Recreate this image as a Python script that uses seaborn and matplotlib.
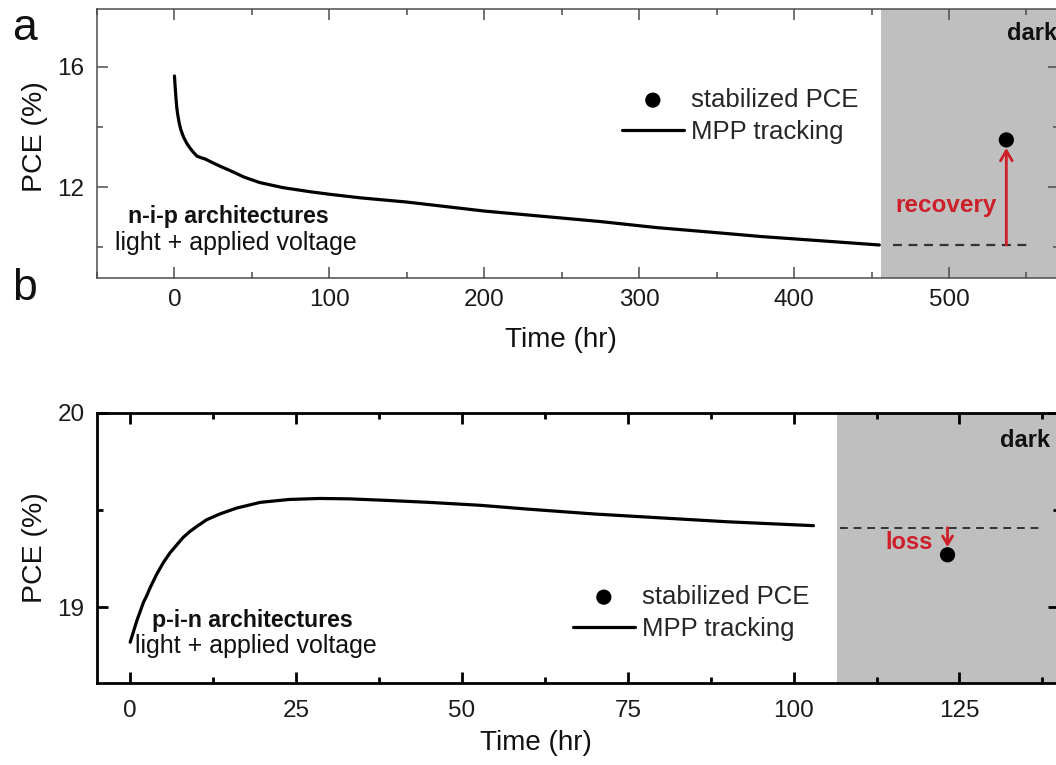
import numpy as np
import pandas as pd
import matplotlib
matplotlib.use("Agg")
import matplotlib.pyplot as plt
from matplotlib.ticker import MultipleLocator
import seaborn as sns

# ---------------- data ----------------
# panel a: n-i-p, MPP tracking under light + applied voltage
nip_time = [0, 0.5, 1, 1.5, 2, 3, 4, 5, 6, 8, 10, 12, 14.5, 17, 20, 25, 30,
            35, 45, 55, 70, 88, 100, 120, 150, 175, 200, 243, 275, 311, 350,
            379, 420, 455]
nip_pce = [15.7, 15.3, 14.95, 14.65, 14.45, 14.15, 13.93, 13.78, 13.65, 13.45,
           13.3, 13.17, 13.03, 12.98, 12.93, 12.8, 12.68, 12.57, 12.33, 12.15,
           11.98, 11.84, 11.76, 11.64, 11.5, 11.35, 11.2, 11.0, 10.85, 10.65,
           10.48, 10.35, 10.2, 10.07]
nip_stab_time = [537]
nip_stab_pce = [13.57]
nip_dark_start = 456
nip_dash_range = [464, 551]

# panel b: p-i-n
pin_time = [0, 0.5, 1, 2, 2.5, 3, 4, 5, 6, 7, 8, 9, 10, 11.5, 13.5, 16, 19.6,
            24, 28.6, 33, 38.7, 45, 52.7, 60, 70, 80, 90, 103]
pin_pce = [18.82, 18.875, 18.93, 19.025, 19.06, 19.10, 19.17, 19.23, 19.28,
           19.32, 19.36, 19.39, 19.415, 19.45, 19.48, 19.51, 19.54, 19.555,
           19.56, 19.558, 19.55, 19.54, 19.525, 19.505, 19.48, 19.46, 19.44,
           19.42]
pin_stab_time = [123.2]
pin_stab_pce = [19.27]
pin_dark_start = 106.6
pin_dash_range = [107, 137]

RED = "#cc1f2a"
GREY = "#bfbfbf"

sns.set_theme(style="white")
plt.rcParams["font.family"] = ["Liberation Sans", "DejaVu Sans"]

W, H = 1056, 765
fig = plt.figure(figsize=(W / 100, H / 100), dpi=100)

def px_ax(left, top, right, bottom):
    return fig.add_axes([left / W, 1 - bottom / H, (right - left) / W, (bottom - top) / H])

ax_a = px_ax(97, 9, 1059, 278)
ax_b = px_ax(97, 413, 1059, 683)

def style_axis(ax, spine_color, spine_lw, xpad, ypad):
    for s in ax.spines.values():
        s.set_visible(True)
        s.set_color(spine_color)
        s.set_linewidth(spine_lw)
    ax.tick_params(which="both", direction="in", top=True, right=True,
                   bottom=True, left=True,
                   color=spine_color, labelsize=17.5, labelcolor="#1a1a1a")
    ax.tick_params(which="major", length=8, width=spine_lw)
    ax.tick_params(which="minor", length=4, width=spine_lw)
    ax.tick_params(axis="x", which="major", pad=xpad)
    ax.tick_params(axis="y", which="major", pad=ypad)
    ax.set_facecolor("white")

def add_legend(ax, x_px, y_px):
    h, l = ax.get_legend_handles_labels()
    order = [l.index("stabilized PCE"), l.index("MPP tracking")]
    ax.legend([h[i] for i in order], [l[i] for i in order], loc="center left",
              bbox_to_anchor=(x_px / W, 1 - y_px / H), bbox_transform=fig.transFigure,
              frameon=False, fontsize=18.5, handlelength=2.4, handletextpad=0.3,
              labelspacing=0.32, borderpad=0, borderaxespad=0, scatterpoints=1)

# ---------------- panel a ----------------
df_a = pd.DataFrame({"Time": nip_time, "PCE": nip_pce})
ax_a.axvspan(nip_dark_start, 600, color=GREY, lw=0, zorder=0)
sns.lineplot(data=df_a, x="Time", y="PCE", ax=ax_a, color="black", lw=2.3,
             label="MPP tracking", zorder=3)
sns.scatterplot(x=nip_stab_time, y=nip_stab_pce, ax=ax_a, color="black", s=120,
                edgecolor="none", label="stabilized PCE", zorder=4)
ax_a.plot(nip_dash_range, [nip_pce[-1]] * 2, ls=(0, (4, 3)), color="#333333", lw=1.6, zorder=2)
ax_a.annotate("", xy=(nip_stab_time[0], 13.3), xytext=(nip_stab_time[0], nip_pce[-1]),
              arrowprops=dict(arrowstyle="->,head_length=0.6,head_width=0.35",
                              color=RED, lw=2.0, shrinkA=0, shrinkB=0), zorder=3)
ax_a.text(531, 11.17, "recovery", color=RED, fontsize=17.5, fontweight="bold",
          ha="right", va="baseline")
ax_a.text(570, 16.9, "dark", color="#111111", fontsize=17, fontweight="bold",
          ha="right", va="baseline")
ax_a.text(-30, 10.8, "n-i-p architectures", fontsize=16.7, fontweight="bold",
          ha="left", va="baseline", color="#111111")
ax_a.text(-38.7, 9.9, "light + applied voltage", fontsize=18,
          ha="left", va="baseline", color="#111111")

ax_a.set_xlim(-50, 571)
ax_a.set_ylim(8.97, 17.93)
ax_a.xaxis.set_major_locator(MultipleLocator(100))
ax_a.xaxis.set_minor_locator(MultipleLocator(50))
ax_a.yaxis.set_major_locator(MultipleLocator(4))
ax_a.yaxis.set_minor_locator(MultipleLocator(2))
style_axis(ax_a, "#4d4d4d", 1.1, 8, 9)
ax_a.set_xlabel("Time (hr)", fontsize=20, color="#111111")
ax_a.set_ylabel("PCE (%)", fontsize=20.5, color="#111111")
ax_a.xaxis.set_label_coords(0.482, -0.182)
ax_a.yaxis.set_label_coords(-0.051, 0.524)
add_legend(ax_a, 622, 116)

# ---------------- panel b ----------------
df_b = pd.DataFrame({"Time": pin_time, "PCE": pin_pce})
ax_b.axvspan(pin_dark_start, 200, color=GREY, lw=0, zorder=0)
sns.lineplot(data=df_b, x="Time", y="PCE", ax=ax_b, color="black", lw=2.3,
             label="MPP tracking", zorder=3)
sns.scatterplot(x=pin_stab_time, y=pin_stab_pce, ax=ax_b, color="black", s=120,
                edgecolor="none", label="stabilized PCE", zorder=4)
ax_b.plot(pin_dash_range, [19.41] * 2, ls=(0, (4, 3)), color="#333333", lw=1.4, zorder=2)
ax_b.annotate("", xy=(pin_stab_time[0], 19.31), xytext=(pin_stab_time[0], 19.41),
              arrowprops=dict(arrowstyle="->,head_length=0.5,head_width=0.3",
                              color=RED, lw=2.0, shrinkA=0, shrinkB=0), zorder=3)
ax_b.text(121, 19.30, "loss", color=RED, fontsize=17, fontweight="bold",
          ha="right", va="baseline")
ax_b.text(138.6, 19.825, "dark", color="#111111", fontsize=17, fontweight="bold",
          ha="right", va="baseline")
ax_b.text(3.3, 18.897, "p-i-n architectures", fontsize=16.7, fontweight="bold",
          ha="left", va="baseline", color="#111111")
ax_b.text(0.75, 18.763, "light + applied voltage", fontsize=18,
          ha="left", va="baseline", color="#111111")

ax_b.set_xlim(-5, 140)
ax_b.set_ylim(18.61, 20.0)
ax_b.xaxis.set_major_locator(MultipleLocator(25))
ax_b.xaxis.set_minor_locator(MultipleLocator(12.5))
ax_b.yaxis.set_major_locator(MultipleLocator(1))
ax_b.yaxis.set_minor_locator(MultipleLocator(0.5))
style_axis(ax_b, "black", 2.0, 12, 9)
ax_b.set_xlabel("Time (hr)", fontsize=20, color="#111111")
ax_b.set_ylabel("PCE (%)", fontsize=20.5, color="#111111")
ax_b.xaxis.set_label_coords(0.456, -0.175)
ax_b.yaxis.set_label_coords(-0.051, 0.5)
add_legend(ax_b, 573, 613)

fig.text(12 / W, 1 - 40 / H, "a", fontsize=32, va="baseline", ha="left", color="#111111")
fig.text(12 / W, 1 - 300 / H, "b", fontsize=32, va="baseline", ha="left", color="#111111")

fig.savefig("out.png", dpi=100, facecolor="white")
